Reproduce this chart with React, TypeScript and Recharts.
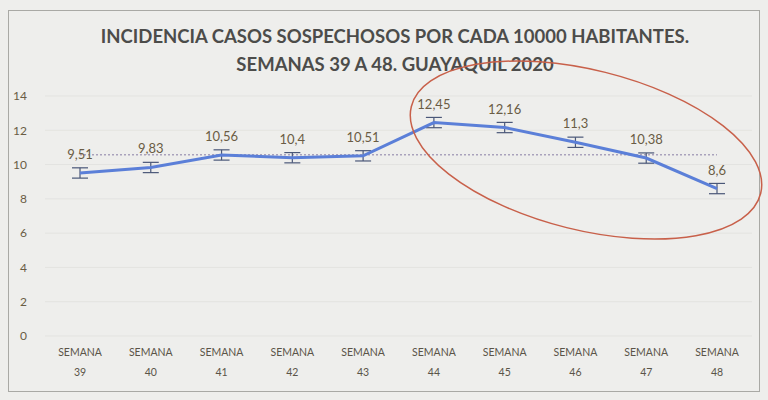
import { LineChart, Line, XAxis, YAxis, CartesianGrid, ErrorBar, LabelList } from "recharts"

const semanas = ["39", "40", "41", "42", "43", "44", "45", "46", "47", "48"]
const incidencia = [9.51, 9.83, 10.56, 10.4, 10.51, 12.45, 12.16, 11.3, 10.38, 8.6]
const errores = [0.3, 0.3, 0.3, 0.3, 0.3, 0.3, 0.3, 0.3, 0.3, 0.3]
const promedio = 10.57
const yTicks = [0, 2, 4, 6, 8, 10, 12, 14]

const data = semanas.map((s, i) => ({
  semana: s,
  valor: incidencia[i],
  error: errores[i],
  promedio,
}))

const font = "Lato, 'Open Sans', sans-serif"

function SemanaTick(props: any) {
  const { x, y, payload } = props
  return (
    <g transform={`translate(${x},${y})`}>
      <text textAnchor="middle" fill="#5a5448" fontSize={10.5} fontFamily={font}>
        <tspan x={0} dy={12}>SEMANA</tspan>
        <tspan x={0} dy={20}>{payload.value}</tspan>
      </text>
    </g>
  )
}

export default function App() {
  return (
    <div style={{ position: "absolute", left: 0, top: 0, width: 768, height: 400, background: "#eeeeec", overflow: "hidden" }}>
      <div style={{ position: "absolute", left: 8, top: 10, width: 750, height: 380, border: "1px solid #a9a9a5" }} />
      <div
        style={{
          position: "absolute",
          top: 22,
          left: 0,
          width: 790,
          textAlign: "center",
          fontFamily: font,
          fontWeight: 700,
          fontSize: 18.5,
          color: "#4c4c4a",
          lineHeight: "28px",
        }}
      >
        INCIDENCIA CASOS SOSPECHOSOS POR CADA 10000 HABITANTES.
        <br />
        SEMANAS 39 A 48. GUAYAQUIL 2020
      </div>
      <div style={{ position: "absolute", left: 0, top: 0 }}>
        <LineChart width={768} height={400} data={data} margin={{ top: 96, right: 16, left: 5, bottom: 8 }}>
          <CartesianGrid vertical={false} stroke="#e3e3e0" />
          <XAxis
            dataKey="semana"
            tick={<SemanaTick />}
            tickLine={false}
            axisLine={false}
            height={56}
            interval={0}
            padding={{ left: 35, right: 35 }}
          />
          <YAxis
            domain={[0, 14]}
            ticks={yTicks}
            width={40}
            tickLine={false}
            axisLine={false}
            tickMargin={12}
            tick={{ fill: "#6a5c44", fontSize: 12, fontFamily: font }}
          />
          <Line
            dataKey="promedio"
            stroke="#a9a2bc"
            strokeWidth={1.5}
            strokeDasharray="2 2"
            dot={false}
            isAnimationActive={false}
          />
          <Line dataKey="valor" stroke="#5b7fd8" strokeWidth={3} dot={false} isAnimationActive={false}>
            <ErrorBar dataKey="error" width={8} stroke="#4a5778" strokeWidth={1.2} />
            <LabelList
              dataKey="valor"
              position="top"
              offset={14}
              formatter={(v: any) => String(v).replace(".", ",")}
              style={{ fill: "#6a5c44", fontSize: 13, fontFamily: font }}
            />
          </Line>
        </LineChart>
      </div>
      <svg width={768} height={400} style={{ position: "absolute", left: 0, top: 0, pointerEvents: "none" }}>
        <ellipse cx={586} cy={150} rx={180} ry={80} transform="rotate(14 586 150)" fill="none" stroke="#c8604a" strokeWidth={1.5} />
      </svg>
    </div>
  )
}
